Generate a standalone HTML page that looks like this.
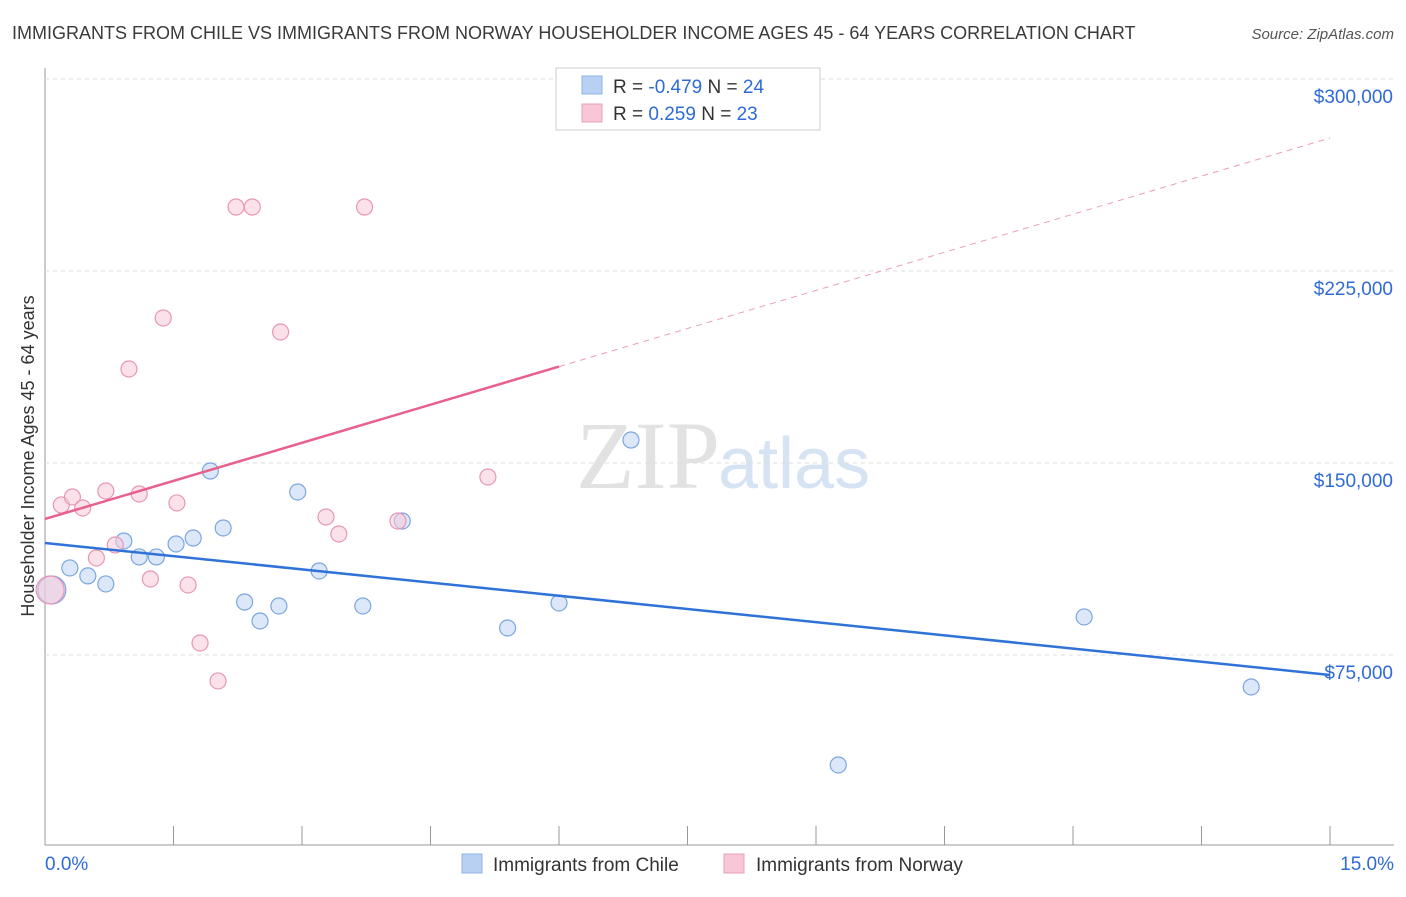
<!DOCTYPE html>
<html><head><meta charset="utf-8"><style>
body{margin:0;background:#fff;font-family:"Liberation Sans",sans-serif;}
#c{position:relative;width:1406px;height:892px;}
</style></head><body>
<div id="c">
<svg id="s" width="1406" height="892" xmlns="http://www.w3.org/2000/svg">
<text x="12" y="39" font-size="18" fill="#3a3a3a">IMMIGRANTS FROM CHILE VS IMMIGRANTS FROM NORWAY HOUSEHOLDER INCOME AGES 45 - 64 YEARS CORRELATION CHART</text>
<text x="1394" y="39" font-size="15" fill="#555" text-anchor="end" font-style="italic">Source: ZipAtlas.com</text>
<text x="720" y="488" font-size="96" fill="#e2e2e2" font-family="Liberation Serif,serif" text-anchor="end">ZIP</text>
<text x="718" y="488" font-size="72" fill="#d6e3f3">atlas</text>
<text transform="translate(34,456) rotate(-90)" font-size="18" fill="#333" text-anchor="middle">Householder Income Ages 45 - 64 years</text>
<g id="grid"></g><g id="marks"></g>
<g>
<rect x="556" y="68" width="264" height="62" fill="#fff" stroke="#ccc"/>
<rect x="582" y="76" width="20" height="18" fill="#b8d1f3" stroke="#8fb3e6"/>
<text x="613" y="93" font-size="19" fill="#333">R = <tspan fill="#2f6bd6">-0.479</tspan>   N = <tspan fill="#2f6bd6">24</tspan></text>
<rect x="582" y="104" width="20" height="18" fill="#f8c6d6" stroke="#eaa0b8"/>
<text x="613" y="120" font-size="19" fill="#333">R =   <tspan fill="#2f6bd6">0.259</tspan>   N = <tspan fill="#2f6bd6">23</tspan></text>
</g>
<g>
<rect x="462" y="854" width="20" height="19" fill="#b8d1f3" stroke="#8fb3e6"/>
<text x="493" y="871" font-size="19" fill="#333">Immigrants from Chile</text>
<rect x="724" y="854" width="20" height="19" fill="#f8c6d6" stroke="#eaa0b8"/>
<text x="756" y="871" font-size="19" fill="#333">Immigrants from Norway</text>
</g>
</svg></div>
<script>
const yTicks=[75000,150000,225000,300000];
const yTickLabels=["$75,000","$150,000","$225,000","$300,000"];
const chileX=[0.08,0.29,0.50,0.71,0.92,1.10,1.30,1.53,1.73,1.93,2.08,2.33,2.51,2.73,2.95,3.20,3.71,4.17,5.40,6.00,6.84,9.26,12.13,14.08];
const chileY=[100400,109000,105900,102750,119540,113300,113300,118370,120710,146880,124620,95710,88290,94150,138680,107820,94150,127350,85560,95320,158990,32040,89860,62510];
const norwayX=[0.06,0.19,0.32,0.44,0.60,0.71,0.82,0.98,1.10,1.23,1.38,1.54,1.67,1.81,2.02,2.23,2.42,2.75,3.28,3.43,3.73,4.12,5.17];
const norwayY=[100400,133600,136730,132430,112900,139070,117980,186730,137900,104700,206650,134390,102360,79700,64860,250000,250000,201180,128920,122280,250000,127350,144540];
const chileTrend=[118760,67200];
const norwayTrend=[128130,276950];
const norwaySolidEnd=6.0;
const NS="http://www.w3.org/2000/svg";
const X=v=>45+v/15*1285, Y=v=>79+(300000-v)*192/75000;
const grid=document.getElementById('grid'), marks=document.getElementById('marks');
function mk(tag,attrs,parent){const e=document.createElementNS(NS,tag);for(const k in attrs)e.setAttribute(k,attrs[k]);parent.appendChild(e);return e;}
let l=mk('line',{x1:45,y1:68,x2:45,y2:845,stroke:'#999'},grid);


l=mk('line',{x1:45,y1:845,x2:1394,y2:845,stroke:'#999'},grid);


yTicks.forEach((t,i)=>{
 const g=mk('line',{x1:45,y1:Y(t),x2:1394,y2:Y(t),stroke:'#ddd','stroke-dasharray':'4,4'},grid);
 
 
 const tx=mk('text',{x:1393,y:Y(t)+24,'font-size':19,fill:'#2f6bd6','text-anchor':'end'},grid);
 tx.textContent=yTickLabels[i];
 
 
});
const topG=mk('line',{x1:45,y1:79,x2:1394,y2:79,stroke:'#ddd','stroke-dasharray':'4,4'},grid);


for(let i=0;i<=10;i++){
 const t=mk('line',{x1:X(i*1.5),y1:826,x2:X(i*1.5),y2:845,stroke:'#999'},grid);
 
 
}
let xl=mk('text',{x:45,y:870,'font-size':19,fill:'#2f6bd6'},grid);xl.textContent='0.0%';


xl=mk('text',{x:1394,y:870,'font-size':19,fill:'#2f6bd6','text-anchor':'end'},grid);xl.textContent='15.0%';


function pts(xs,ys,fill,stroke,name){xs.forEach((x,i)=>{
 const c=mk('circle',{cx:X(x),cy:Y(ys[i]),r:i===0?14:8,fill:fill,stroke:stroke,'stroke-width':1.2,'fill-opacity':0.55},marks);
 
 
});}
pts(chileX,chileY,'#c0d6f4','#7aa6e0','chile-point');
pts(norwayX,norwayY,'#f8c8d8','#e897b2','norway-point');
let tl=mk('line',{x1:X(0),y1:Y(chileTrend[0]),x2:X(15),y2:Y(chileTrend[1]),stroke:'#2f72d8','stroke-width':2.5},marks);


const nAt=x=>norwayTrend[0]+(norwayTrend[1]-norwayTrend[0])*x/15;
tl=mk('line',{x1:X(0),y1:Y(norwayTrend[0]),x2:X(norwaySolidEnd),y2:Y(nAt(norwaySolidEnd)),stroke:'#e8608c','stroke-width':2.5},marks);


tl=mk('line',{x1:X(norwaySolidEnd),y1:Y(nAt(norwaySolidEnd)),x2:X(15),y2:Y(norwayTrend[1]),stroke:'#e8a0b8','stroke-width':1,'stroke-dasharray':'6,5'},marks);


</script>
</body></html>
